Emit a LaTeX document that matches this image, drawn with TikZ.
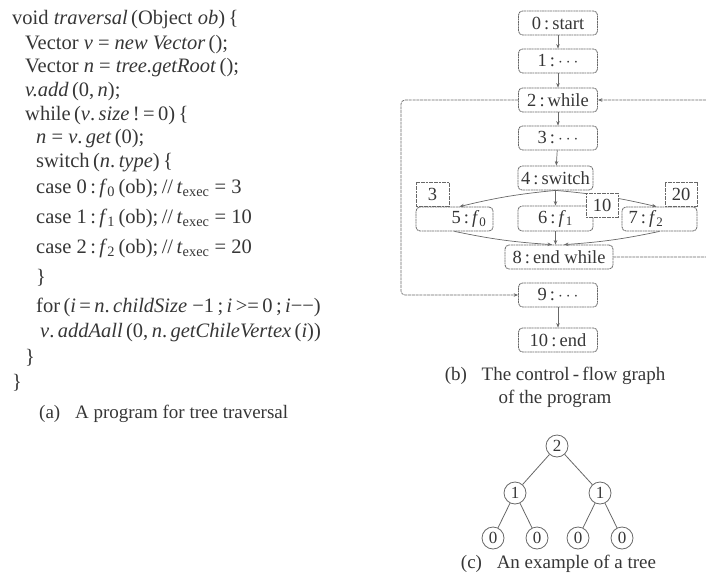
\documentclass[tikz,border=0pt]{standalone}
\usepackage{fontspec}
\setmainfont{Liberation Serif}
\usetikzlibrary{arrows.meta,calc}
\definecolor{ink}{HTML}{363636}
\definecolor{edge}{HTML}{686868}
\begin{document}
\begin{tikzpicture}[x=1pt,y=-1pt,
  box/.style={draw=edge, dash pattern=on 2pt off 0.6pt, rounded corners=4pt, line width=0.8pt,
    minimum width=79pt, minimum height=24pt, inner sep=0pt, text=ink, font=\fontsize{18.5}{20}\selectfont},
  costbox/.style={draw=edge, dash pattern=on 2pt off 0.6pt, fill=white, line width=0.8pt,
    minimum width=32pt, minimum height=24pt, inner sep=0pt, text=ink, font=\fontsize{18.5}{20}\selectfont},
  arr/.style={draw=edge, line width=0.7pt, -{Stealth[length=4.5pt,width=3.5pt]}},
  loopline/.style={arr, dash pattern=on 3pt off 0.8pt, rounded corners=4pt},
  tnode/.style={circle, draw=edge, line width=0.8pt, minimum size=22pt, inner sep=0pt,
    text=ink, font=\fontsize{17}{17}\selectfont},
  tedge/.style={draw=edge, line width=0.8pt},
  code/.style={anchor=base west, inner sep=0pt, text=ink, font=\fontsize{20.5}{23}\selectfont},
  capt/.style={inner sep=0pt, text=ink, font=\fontsize{19}{23}\selectfont, align=center}
]
\useasboundingbox (0,0) rectangle (706,586);
\clip (0,0) rectangle (706,586);

% ---------------- (a) program ----------------
\node[code] (c1)  at (12,25)  {void \textit{traversal}\,(Object \textit{ob})\,\{};
\node[code] (c2)  at (25,49)  {Vector \textit{v} = \textit{new Vector}\,();};
\node[code] (c3)  at (25,73)  {Vector \textit{n} = \textit{tree.getRoot}\,();};
\node[code] (c4)  at (25,96)  {\textit{v.add}\,(0,\,\textit{n});};
\node[code] (c5)  at (25,120) {while\,(\textit{v}.\,\textit{size}\,!\,=\,0)\,\{};
\node[code] (c6)  at (36,143) {\textit{n} = \textit{v}.\,\textit{get}\,(0);};
\node[code] (c7)  at (36,167) {switch\,(\textit{n}.\,\textit{type})\,\{};
\node[code] (c8)  at (36,193) {case 0\,:\,\textit{f}\textsubscript{0}\,(ob);\,//\,\textit{t}\textsubscript{exec} = 3};
\node[code] (c9)  at (36,223) {case 1\,:\,\textit{f}\textsubscript{1}\,(ob);\,//\,\textit{t}\textsubscript{exec} = 10};
\node[code] (c10) at (36,253) {case 2\,:\,\textit{f}\textsubscript{2}\,(ob);\,//\,\textit{t}\textsubscript{exec} = 20};
\node[code] (c11) at (36,283) {\}};
\node[code] (c12) at (36,312) {for\,(\textit{i}\,=\,\textit{n}.\,\textit{childSize} −1\,;\,\textit{i}\,>=\,0\,;\,\textit{i}−−)};
\node[code] (c13) at (40,337) {\textit{v}.\,\textit{addAall}\,(0,\,\textit{n}.\,\textit{getChileVertex}\,(\textit{i}))};
\node[code] (c14) at (25,363) {\}};
\node[code] (c15) at (12,388) {\}};
\node[capt, anchor=west] (capa) at (39,414) {(a)\hspace{10pt} A program for tree traversal};

% ---------------- (b) control-flow graph ----------------
\node[box] (n0) at (558,23)  {0\,:\,start};
\node[box] (n1) at (558,61)  {1\,:\,$\cdots$};
\node[box] (n2) at (558,100) {2\,:\,while};
\node[box] (n3) at (558,138) {3\,:\,$\cdots$};
\node[box, minimum width=75pt] (n4) at (555.5,178) {4\,:\,switch};
\node[box, minimum width=77pt] (n5) at (454.5,219) {\hspace*{29pt}5\,:\,\textit{f}\textsubscript{0}};
\node[box, minimum width=75pt, minimum height=25pt] (n6) at (555.5,218.5) {6\,:\,\textit{f}\textsubscript{1}};
\node[box, minimum width=75pt] (n7) at (659.5,219) {7\,:\,\textit{f}\textsubscript{2}\hspace*{27pt}};
\node[box, minimum width=108pt] (n8) at (559,257) {8\,:\,end while};
\node[box] (n9) at (558,295) {9\,:\,$\cdots$};
\node[box] (n10) at (558,340) {10\,:\,end};

\draw[arr] (n0) -- (n1);
\draw[arr] (n1) -- (n2);
\draw[arr] (n2) -- (n3);
\draw[arr] (n3) -- (n4);
\draw[arr] (n4) -- (n6);
\draw[arr] (n4.south) to[bend right=4] ([xshift=5pt]n5.north);
\draw[arr] (n4.south) to[bend left=4] ([xshift=-3pt]n7.north);
\draw[arr] (n5.south) to[bend right=4] ([xshift=-7pt]n8.north);
\draw[arr] (n6.south) -- (n6.south |- n8.north);
\draw[arr] (n7.south) to[bend left=4] ([xshift=5pt]n8.north);
\draw[arr] (n9) -- (n10);

\coordinate (lt) at (401,100);
\coordinate (lb) at (401,295);
\coordinate (rt) at (716,100);
\coordinate (rb) at (716,257);
\draw[loopline] (n2.west) -- (lt) -- (lb) -- (n9.west);
\draw[loopline] (n8.east) -- (rb) -- (rt) -- (n2.east);

\node[costbox, minimum width=33pt, anchor=south west] (k3) at (n5.north west) {3};
\node[costbox] (k10) at (602,205) {10};
\node[costbox, anchor=south east] (k20) at (n7.north east) {20};

\node[capt] (capb) at (555,387) {(b)\hspace{10pt} The control\,-\,flow graph\\of the program};

% ---------------- (c) tree ----------------
\node[tnode] (t0) at (557,446) {2};
\node[tnode] (t1) at (515,493) {1};
\node[tnode] (t2) at (600,493) {1};
\node[tnode] (t3) at (493,538) {0};
\node[tnode] (t4) at (537,538) {0};
\node[tnode] (t5) at (578,538) {0};
\node[tnode] (t6) at (622,538) {0};
\draw[tedge] (t0) -- (t1);
\draw[tedge] (t0) -- (t2);
\draw[tedge] (t1) -- (t3);
\draw[tedge] (t1) -- (t4);
\draw[tedge] (t2) -- (t5);
\draw[tedge] (t2) -- (t6);
\node[capt] (capc) at (558.5,564) {(c)\hspace{10pt} An example of a tree};
\end{tikzpicture}
\end{document}
